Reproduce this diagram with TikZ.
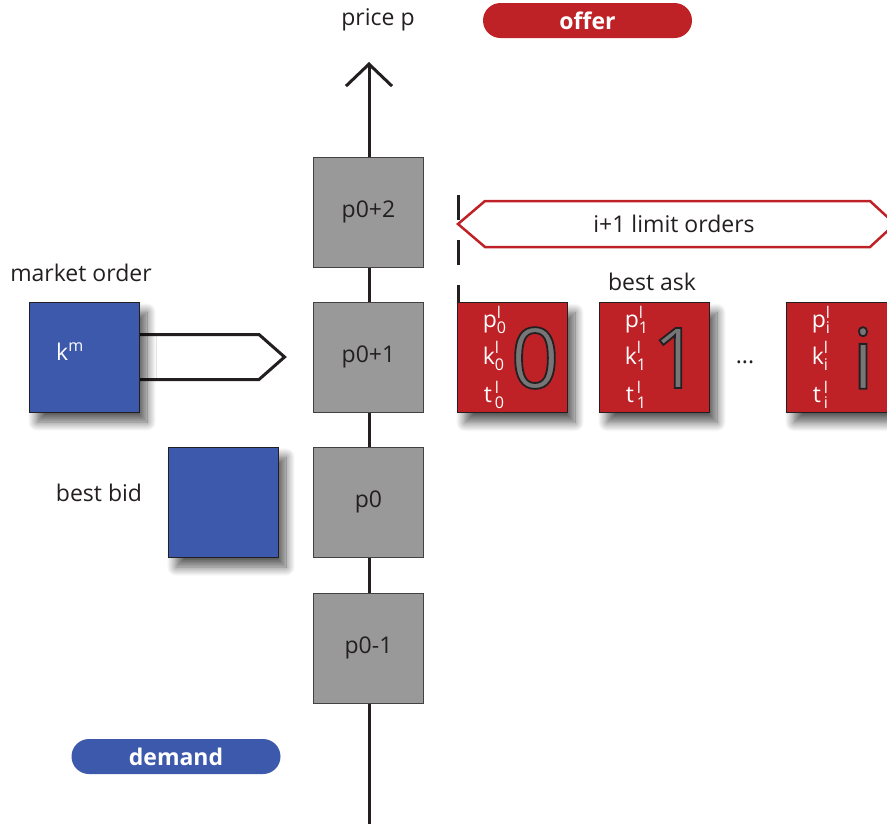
\documentclass[tikz,border=0pt]{standalone}
\usepackage{fontspec}
\setmainfont{Open Sans}
\usepackage{amsmath}
\usetikzlibrary{arrows.meta,shadows.blur,calc}
\definecolor{offerred}{RGB}{190,34,39}
\definecolor{demblue}{RGB}{61,89,171}
\definecolor{levelgray}{RGB}{153,153,153}
\definecolor{digitgray}{RGB}{118,118,118}
\definecolor{ink}{RGB}{35,31,32}
\newcommand\ordlbl[2]{$\textnormal{#1}^{\textnormal{l}}_{\textnormal{#2}}$}
% large order number: gray glyph with a dark stroked outline (text render mode 2)
\newcommand\bigdigit[1]{\textcolor{digitgray}{\special{pdf:literal direct 0.14 0.12 0.13 RG 1.8 w 2 Tr}#1\special{pdf:literal direct 0 Tr}}}
\tikzset{
  txt/.style={font=\fontsize{23}{27}\selectfont, inner sep=0pt, text=ink},
  level/.style={txt, draw=ink!85, line width=0.9pt, fill=levelgray, minimum size=110pt},
  softshadow/.style={blur shadow={shadow xshift=8pt, shadow yshift=-10pt,
      shadow blur radius=9pt, shadow blur steps=14, shadow opacity=65}},
  bidbox/.style={draw=ink, line width=0.9pt, fill=demblue, minimum size=110pt, softshadow},
  askbox/.style={draw=ink, line width=0.9pt, fill=offerred, minimum size=110pt, softshadow},
  lbl/.style={txt, text=white, anchor=base west},
  digit/.style={font=\fontsize{84}{88}\selectfont, inner sep=0pt},
  pill/.style={rounded corners=17.5pt, minimum width=209pt, minimum height=35pt,
      inner sep=0pt, text=white, font=\bfseries\fontsize{23}{27}\selectfont},
  axisline/.style={line width=3pt, draw=ink},
  mktarrow/.style={line width=3pt, draw=ink, fill=white, line join=miter},
  limarrow/.style={line width=2.5pt, draw=offerred, fill=white, line join=miter},
}
\begin{document}
\begin{tikzpicture}[x=1pt,y=-1pt]
\path[use as bounding box] (0,0) rectangle (887,823);
\clip (0,0) rectangle (887,823);

% price axis
\coordinate (axbot) at (369,830);
\coordinate (axtop) at (369,62);
\draw[axisline, -{Straight Barb[length=22pt,width=46pt,line width=3pt]}] (axbot) -- (axtop);
\node[txt] (price) at (378,20) {price p};

% price levels
\node[level] (p2) at (368.5,212) {p0+2};
\node[level] (p1) at (368.5,357) {p0+1};
\node[level] (p0) at (368.5,502) {p0};
\node[level] (pm) at (368.5,648) {p0-1};

% market order
\node[txt] (mktlbl) at (81,273) {market order};
\coordinate (mktbase) at (139,357);
\draw[mktarrow] ($(mktbase)+(-2,-22.5)$) -- ($(mktbase)+(120,-22.5)$)
   -- ($(p1.west)+(-28.5,0)$) -- ($(mktbase)+(120,22.5)$) -- ($(mktbase)+(-2,22.5)$);
\node[bidbox] (mkt) at (84,357) {};
\node[txt, text=white] (km) at (70,352) {k\textsuperscript{m}};

% best bid
\node[txt] (bidlbl) at (99,493) {best bid};
\node[bidbox] (bid) at (223,502) {};

% limit orders on the ask side
\draw[limarrow] (458,224) -- (485,201) -- (870,201) -- (895,224) -- (870,247) -- (485,247) -- cycle;
\node[txt] (lim) at (674,224) {i+1 limit orders};
\coordinate (dtop) at (458,195);
\coordinate (dbot) at (458,303);
\draw[line width=3pt, draw=ink, dash pattern=on 25pt off 20pt] (dtop) -- (dbot);
\node[txt] (asklbl) at (652,282) {best ask};

\node[askbox] (a0) at (512,357.5) {};
\node[askbox] (a1) at (654,357.5) {};
\node[askbox] (ai) at (841,357.5) {};
\node[txt] (dots) at (745,362) {...};

\node[digit] (d0) at (535,358) {\bigdigit{0}};
\node[digit] (d1) at (676,358) {\bigdigit{1}};
\node[digit] (di) at (863,358) {\bigdigit{i}};

\foreach \b/\s in {a0/0,a1/1,ai/i}{
  \node[lbl] (\b p) at ($(\b.north west)+(26,25)$) {\ordlbl{p}{\s}};
  \node[lbl] (\b k) at ($(\b.north west)+(26,62)$) {\ordlbl{k}{\s}};
  \node[lbl] (\b t) at ($(\b.north west)+(27,100)$) {$\textnormal{t}^{\,\textnormal{l}}_{\,\textnormal{\s}}$};
}

% side tags
\node[pill, fill=offerred] (offer) at (587.5,20.5) {offer};
\node[pill, fill=demblue] (demand) at (176,756.5) {demand};
\end{tikzpicture}
\end{document}
